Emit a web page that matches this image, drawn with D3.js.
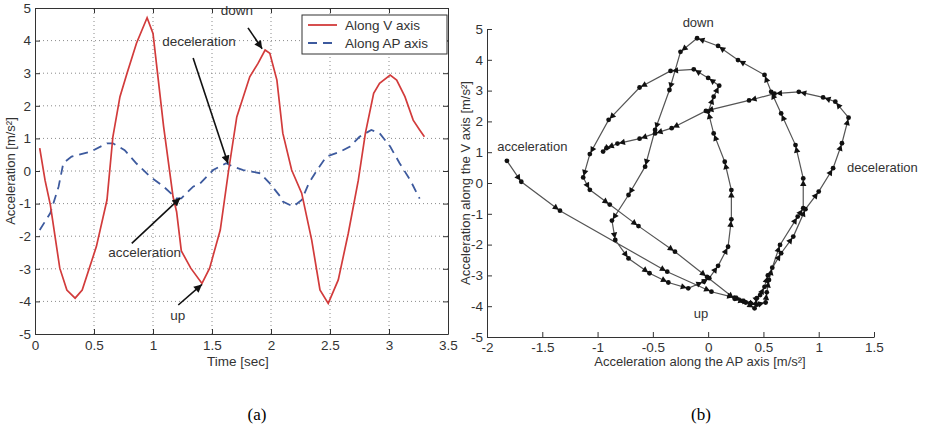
<!DOCTYPE html>
<html>
<head>
<meta charset="utf-8">
<script src="https://cdn.jsdelivr.net/npm/d3@7"></script>
<style>
  body { margin: 0; background: #fff; }
  text { font-family: "Liberation Sans", Arial, sans-serif; fill: #333; }
</style>
</head>
<body>
<svg id="fig" width="927" height="429"></svg>
<script>
// ---- (a) acceleration against time ----
const timeV = [0.04, 0.085, 0.13, 0.21, 0.27, 0.34, 0.40, 0.52, 0.61, 0.66, 0.72, 0.78, 0.86, 0.95, 1.00,
  1.09, 1.17, 1.20, 1.24, 1.32, 1.415, 1.48, 1.57, 1.64, 1.71, 1.82, 1.89, 1.95, 1.99, 2.05, 2.10, 2.175,
  2.26, 2.345, 2.415, 2.485, 2.57, 2.655, 2.74, 2.80, 2.87, 2.92, 3.01, 3.065, 3.135, 3.205, 3.26, 3.30];
const accV = [0.70, -0.28, -1.04, -2.98, -3.65, -3.90, -3.65, -2.32, -0.89, 1.05, 2.28, 3.00, 3.92, 4.70, 4.22,
  1.36, -0.79, -1.25, -2.45, -2.98, -3.45, -2.98, -1.81, 0.00, 1.66, 2.89, 3.30, 3.71, 3.61, 2.79, 1.16, 0.03,
  -0.68, -2.12, -3.65, -4.06, -3.34, -1.91, -0.28, 1.16, 2.38, 2.69, 2.94, 2.79, 2.28, 1.56, 1.26, 1.05];

const timeAP = [0.04, 0.13, 0.20, 0.24, 0.31, 0.47, 0.61, 0.66, 0.76, 0.86, 0.975, 1.09, 1.20, 1.24, 1.34,
  1.40, 1.51, 1.62, 1.68, 1.765, 1.91, 1.99, 2.08, 2.10, 2.19, 2.26, 2.32, 2.39, 2.47, 2.585, 2.67, 2.75,
  2.85, 2.92, 3.01, 3.09, 3.18, 3.26];
const accAP = [-1.81, -1.29, -0.48, 0.24, 0.44, 0.59, 0.85, 0.85, 0.64, 0.23, -0.17, -0.48, -0.84, -0.84, -0.48,
  -0.38, 0.03, 0.24, 0.13, 0.03, -0.07, -0.38, -0.79, -0.94, -1.09, -0.89, -0.38, 0.03, 0.44, 0.59, 0.75, 1.05,
  1.26, 1.16, 0.75, 0.24, -0.28, -0.85];

const timeTicks = [0, 0.5, 1, 1.5, 2, 2.5, 3, 3.5];
const accTicks = [-5, -4, -3, -2, -1, 0, 1, 2, 3, 4, 5];
const seriesNames = ["Along V axis", "Along AP axis"];

// ---- (b) V against AP ----
const apPath = [-1.82, -1.69, -1.34, -0.37, 0.03, 0.24, 0.31, 0.38, 0.44, 0.52, 0.53, 0.55, 0.58, 0.65, 0.81,
  0.86, 0.86, 0.79, 0.66, 0.57, 0.51, 0.27, 0.09, -0.10, -0.25, -0.35, -0.48, -0.57, -0.72, -0.87, -0.84,
  -0.72, -0.53, -0.36, -0.18, -0.04, 0.01, 0.09, 0.18, 0.21, 0.21, 0.15, 0.05, 0.00, 0.05, 0.10, 0.00, -0.13,
  -0.34, -0.62, -0.90, -1.07, -1.13, -1.07, -0.89, -0.63, -0.30, -0.01, 0.24, 0.34, 0.42, 0.44, 0.47, 0.51,
  0.54, 0.66, 0.77, 0.88, 1.00, 1.13, 1.21, 1.27, 1.15, 1.04, 0.82, 0.60, 0.37, -0.02, -0.33, -0.48, -0.62,
  -0.82, -0.92, -0.95];
const vPath = [0.72, 0.04, -0.90, -2.88, -3.53, -3.72, -3.83, -3.90, -3.95, -3.88, -3.55, -3.15, -2.75, -2.01, -1.09,
  -0.82, 0.15, 1.23, 2.26, 2.96, 3.51, 3.99, 4.45, 4.70, 4.26, 3.02, 1.72, 0.53, -0.39, -1.22, -1.85,
  -2.45, -2.93, -3.23, -3.42, -3.20, -3.09, -2.69, -2.07, -1.18, -0.23, 0.69, 1.61, 2.32, 2.80, 3.16, 3.41, 3.69,
  3.64, 3.10, 2.05, 0.94, 0.18, -0.22, -0.70, -1.40, -2.23, -3.05, -3.76, -3.88, -4.07, -3.74, -3.64, -3.37,
  -3.00, -2.28, -1.74, -0.85, -0.28, 0.48, 1.29, 2.12, 2.64, 2.78, 2.96, 2.90, 2.68, 2.34, 1.78, 1.61, 1.44,
  1.28, 1.13, 1.02];
const apTicks = [-2, -1.5, -1, -0.5, 0, 0.5, 1, 1.5];

const svg = d3.select("#fig");

// arrowhead for the annotations
svg.append("defs").append("marker")
  .attr("id", "head")
  .attr("viewBox", "0 0 10 10")
  .attr("refX", 10).attr("refY", 5)
  .attr("markerWidth", 10).attr("markerHeight", 8)
  .attr("markerUnits", "userSpaceOnUse")
  .attr("orient", "auto")
  .append("path").attr("d", "M0,0L10,5L0,10z").attr("fill", "#111");

function styleAxis(g) {
  g.selectAll(".domain").attr("stroke", "#333");
  g.selectAll(".tick line").attr("stroke", "#333");
  g.selectAll(".tick text").attr("fill", "#333")
    .style("font-family", '"Liberation Sans", Arial, sans-serif').style("font-size", "13.5px");
}

// ================= (a) =================
const xa = d3.scaleLinear().domain([0, 3.5]).range([35, 448]);
const ya = d3.scaleLinear().domain([-5, 5]).range([334, 8]);

// dotted grid
const grid = svg.append("g").attr("stroke", "#8a8a8a").attr("stroke-dasharray", "1,3");
grid.selectAll(".gx").data(timeTicks.slice(1, -1)).join("line")
  .attr("x1", d => xa(d)).attr("x2", d => xa(d)).attr("y1", ya(-5)).attr("y2", ya(5));
grid.selectAll(".gy").data(accTicks.slice(1, -1)).join("line")
  .attr("y1", d => ya(d)).attr("y2", d => ya(d)).attr("x1", xa(0)).attr("x2", xa(3.5));

const fmt = d => String(d);
svg.append("g").attr("transform", `translate(0,${ya(-5)})`)
  .call(d3.axisBottom(xa).tickValues(timeTicks).tickFormat(fmt).tickSizeInner(-5).tickSizeOuter(0).tickPadding(6))
  .call(styleAxis);
svg.append("g").attr("transform", `translate(0,${ya(5)})`)
  .call(d3.axisTop(xa).tickValues(timeTicks).tickFormat("").tickSizeInner(-5).tickSizeOuter(0))
  .call(styleAxis);
svg.append("g").attr("transform", `translate(${xa(0)},0)`)
  .call(d3.axisLeft(ya).tickValues(accTicks).tickFormat(fmt).tickSizeInner(-5).tickSizeOuter(0).tickPadding(4))
  .call(styleAxis);
svg.append("g").attr("transform", `translate(${xa(3.5)},0)`)
  .call(d3.axisRight(ya).tickValues(accTicks).tickFormat("").tickSizeInner(-5).tickSizeOuter(0))
  .call(styleAxis);

const lineA = d3.line().x(d => xa(d[0])).y(d => ya(d[1]));
svg.append("path").datum(d3.zip(timeAP, accAP))
  .attr("d", lineA).attr("fill", "none")
  .attr("stroke", "#3d5a9e").attr("stroke-width", 1.8).attr("stroke-dasharray", "9,6");
svg.append("path").datum(d3.zip(timeV, accV))
  .attr("d", lineA).attr("fill", "none")
  .attr("stroke", "#d23b3b").attr("stroke-width", 1.7);

svg.append("text").attr("x", xa(1.72)).attr("y", 366).attr("text-anchor", "middle")
  .style("font-size", "13.5px").text("Time [sec]");
svg.append("text").attr("transform", `translate(15,${ya(0)}) rotate(-90)`).attr("text-anchor", "middle")
  .style("font-size", "13px").text("Acceleration [m/s²]");

// annotations (a): text in data units, arrow from -> to
const notesA = [
  { label: "down", tx: 1.71, ty: 4.79, from: [1.805, 4.39], to: [1.925, 3.75] },
  { label: "deceleration", tx: 1.39, ty: 3.83, from: [1.34, 3.47], to: [1.636, 0.23] },
  { label: "acceleration", tx: 0.93, ty: -2.64, from: [0.82, -2.22], to: [1.23, -0.83] },
  { label: "up", tx: 1.21, ty: -4.57, from: [1.214, -4.11], to: [1.415, -3.48] }
];
const na = svg.append("g");
na.selectAll("line").data(notesA).join("line")
  .attr("x1", d => xa(d.from[0])).attr("y1", d => ya(d.from[1]))
  .attr("x2", d => xa(d.to[0])).attr("y2", d => ya(d.to[1]))
  .attr("stroke", "#111").attr("stroke-width", 1.6).attr("marker-end", "url(#head)");
na.selectAll("text").data(notesA).join("text")
  .attr("x", d => xa(d.tx)).attr("y", d => ya(d.ty)).attr("text-anchor", "middle")
  .style("font-size", "13.5px").text(d => d.label);

// legend
const leg = svg.append("g");
leg.append("rect").attr("x", 302).attr("y", 15).attr("width", 145).attr("height", 39)
  .attr("fill", "#fff").attr("stroke", "#333");
leg.selectAll("line").data(seriesNames).join("line")
  .attr("x1", 308).attr("x2", 337).attr("y1", (d, i) => 25 + i * 18).attr("y2", (d, i) => 25 + i * 18)
  .attr("stroke", (d, i) => i ? "#3d5a9e" : "#d23b3b").attr("stroke-width", 1.8)
  .attr("stroke-dasharray", (d, i) => i ? "9,6" : null);
leg.selectAll("text").data(seriesNames).join("text")
  .attr("x", 345).attr("y", (d, i) => 30 + i * 18).style("font-size", "13.5px").text(d => d);

// ================= (b) =================
const xb = d3.scaleLinear().domain([-2, 1.5]).range([487, 874]);
const yb = d3.scaleLinear().domain([-5, 5]).range([337, 29]);

svg.append("g").attr("transform", `translate(0,${yb(-5)})`)
  .call(d3.axisBottom(xb).tickValues(apTicks).tickFormat(fmt).tickSizeInner(-5).tickSizeOuter(0).tickPadding(5))
  .call(styleAxis);
svg.append("g").attr("transform", `translate(${xb(-2)},0)`)
  .call(d3.axisLeft(yb).tickValues(accTicks).tickFormat(fmt).tickSizeInner(-5).tickSizeOuter(0).tickPadding(4))
  .call(styleAxis);

svg.append("text").attr("x", 700).attr("y", 366).attr("text-anchor", "middle")
  .style("font-size", "13px").text("Acceleration along the AP axis [m/s²]");
svg.append("text").attr("transform", `translate(470,${yb(0)}) rotate(-90)`).attr("text-anchor", "middle")
  .style("font-size", "13px").text("Acceleration along the V axis [m/s²]");

const pts = d3.zip(apPath, vPath).map(d => [xb(d[0]), yb(d[1])]);
svg.append("path").datum(pts)
  .attr("d", d3.line()).attr("fill", "none").attr("stroke", "#555").attr("stroke-width", 1.2);

// direction heads just before each sample, plus a dot on the sample
const heads = pts.slice(1).map((p, i) => {
  const q = pts[i];
  const a = Math.atan2(p[1] - q[1], p[0] - q[0]);
  return { x: p[0], y: p[1], a: a * 180 / Math.PI };
});
svg.append("g").selectAll("path").data(heads).join("path")
  .attr("transform", d => `translate(${d.x},${d.y}) rotate(${d.a})`)
  .attr("d", "M-1.5,0L-7.5,-3.2L-7.5,3.2Z").attr("fill", "#111");
svg.append("g").selectAll("circle").data(pts).join("circle")
  .attr("cx", d => d[0]).attr("cy", d => d[1]).attr("r", 2.4).attr("fill", "#111");

const notesB = [
  { label: "down", x: -0.09, y: 5.06, anchor: "middle" },
  { label: "acceleration", x: -1.59, y: 1.04, anchor: "middle" },
  { label: "deceleration", x: 1.255, y: 0.36, anchor: "start" },
  { label: "up", x: -0.065, y: -4.38, anchor: "middle" }
];
svg.append("g").selectAll("text").data(notesB).join("text")
  .attr("x", d => xb(d.x)).attr("y", d => yb(d.y)).attr("text-anchor", d => d.anchor)
  .style("font-size", "13px").text(d => d.label);

// panel captions
svg.selectAll(".cap").data(["(a)", "(b)"]).join("text")
  .attr("x", (d, i) => i ? 701 : 257).attr("y", 420).attr("text-anchor", "middle")
  .style("font-family", '"Liberation Serif", "Times New Roman", serif').style("font-size", "17px")
  .style("fill", "#000").text(d => d);
</script>
</body>
</html>
